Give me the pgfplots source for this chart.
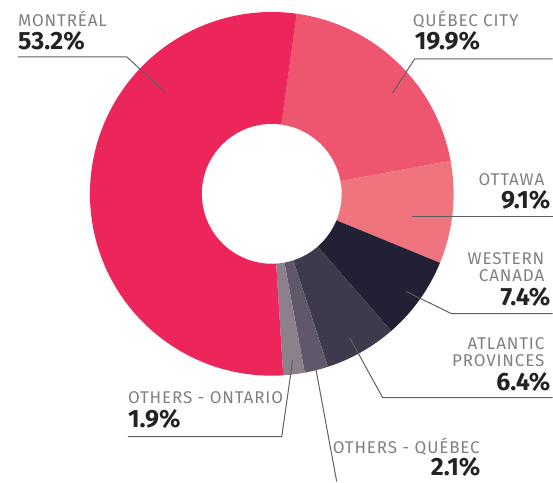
\documentclass[border=0pt]{standalone}
\usepackage{pgfplots}
\pgfplotsset{compat=1.18}
\usetikzlibrary{calc}
\usepackage{fontspec}
\setmainfont{Fira Sans}
\newfontfamily\namefont[LetterSpace=5]{Fira Sans}
\definecolor{cMtl}{RGB}{236,38,90}
\definecolor{cQc}{RGB}{238,86,112}
\definecolor{cOtt}{RGB}{240,116,126}
\definecolor{cWest}{RGB}{33,32,52}
\definecolor{cAtl}{RGB}{62,58,78}
\definecolor{cOQ}{RGB}{96,88,106}
\definecolor{cOO}{RGB}{140,128,140}
\definecolor{cName}{RGB}{128,128,128}
\definecolor{cPct}{RGB}{35,35,35}
\definecolor{cLine}{RGB}{95,95,95}
\newcommand{\nm}{\namefont\fontsize{17}{17}\selectfont}
\newcommand{\pc}{\fontsize{25}{25}\selectfont\bfseries}
\begin{document}
\begin{tikzpicture}
\begin{axis}[width=553pt,height=482pt,scale only axis,
  xmin=0,xmax=553,ymin=0,ymax=482,y dir=reverse,hide axis,clip=false]
\path (rel axis cs:0,0) rectangle (rel axis cs:1,1);
\gdef\s{7.9}
\foreach \v/\c in {19.9/cQc,9.1/cOtt,7.4/cWest,6.4/cAtl,2.1/cOQ,1.9/cOO,53.2/cMtl}{%
  \pgfmathsetmacro\e{\s+3.6*\v}%
  \pgfmathsetmacro\pa{90-\s}%
  \pgfmathsetmacro\pb{90-\e}%
  \edef\cmd{\noexpand\fill[\c] ($(axis cs:272,194)+(\pa:182pt)$) arc[start angle=\pa,end angle=\pb,radius=182pt] -- ($(axis cs:272,194)+(\pb:70pt)$) arc[start angle=\pb,end angle=\pa,radius=70pt] -- cycle;}%
  \cmd
  \global\let\s\e
}
\addplot[cLine,line width=1pt,no markers] coordinates {(18,57)(127,57)(165,92)};
\addplot[cLine,line width=1pt,no markers] coordinates {(553,59)(415,59)(393,93)};
\addplot[cLine,line width=1pt,no markers] coordinates {(412,217)(553,217)};
\addplot[cLine,line width=1pt,no markers] coordinates {(407,292)(452,314)(553,314)};
\addplot[cLine,line width=1pt,no markers] coordinates {(350,338)(383,398)(553,398)};
\addplot[cLine,line width=1pt,no markers] coordinates {(293,360)(282,437)(128,437)};
\addplot[cLine,line width=1pt,no markers] coordinates {(315,363)(337,482)};
\node[anchor=base west,text=cName,font=\nm,inner sep=0pt] at (axis cs:18,27) {MONTRÉAL};
\node[anchor=base west,text=cPct,font=\pc,inner sep=0pt] at (axis cs:18,50) {53.2\%};
\node[anchor=base west,text=cName,font=\nm,inner sep=0pt] at (axis cs:413,27) {QUÉBEC CITY};
\node[anchor=base west,text=cPct,font=\pc,inner sep=0pt] at (axis cs:415,50) {19.9\%};
\node[anchor=base east,text=cName,font=\nm,inner sep=0pt] at (axis cs:545,186) {OTTAWA};
\node[anchor=base east,text=cPct,font=\pc,inner sep=0pt] at (axis cs:551,209) {9.1\%};
\node[anchor=base east,text=cName,font=\nm,inner sep=0pt] at (axis cs:545,265) {WESTERN};
\node[anchor=base east,text=cName,font=\nm,inner sep=0pt] at (axis cs:545,282) {CANADA};
\node[anchor=base east,text=cPct,font=\pc,inner sep=0pt] at (axis cs:551,306) {7.4\%};
\node[anchor=base east,text=cName,font=\nm,inner sep=0pt] at (axis cs:545,350) {ATLANTIC};
\node[anchor=base east,text=cName,font=\nm,inner sep=0pt] at (axis cs:545,367) {PROVINCES};
\node[anchor=base east,text=cPct,font=\pc,inner sep=0pt] at (axis cs:551,391) {6.4\%};
\node[anchor=base west,text=cName,font=\nm,inner sep=0pt] at (axis cs:128,404) {OTHERS - ONTARIO};
\node[anchor=base west,text=cPct,font=\pc,inner sep=0pt] at (axis cs:128,428) {1.9\%};
\node[anchor=base west,text=cName,font=\nm,inner sep=0pt] at (axis cs:333,454) {OTHERS - QUÉBEC};
\node[anchor=base east,text=cPct,font=\pc,inner sep=0pt] at (axis cs:481,476) {2.1\%};
\end{axis}
\end{tikzpicture}
\end{document}
